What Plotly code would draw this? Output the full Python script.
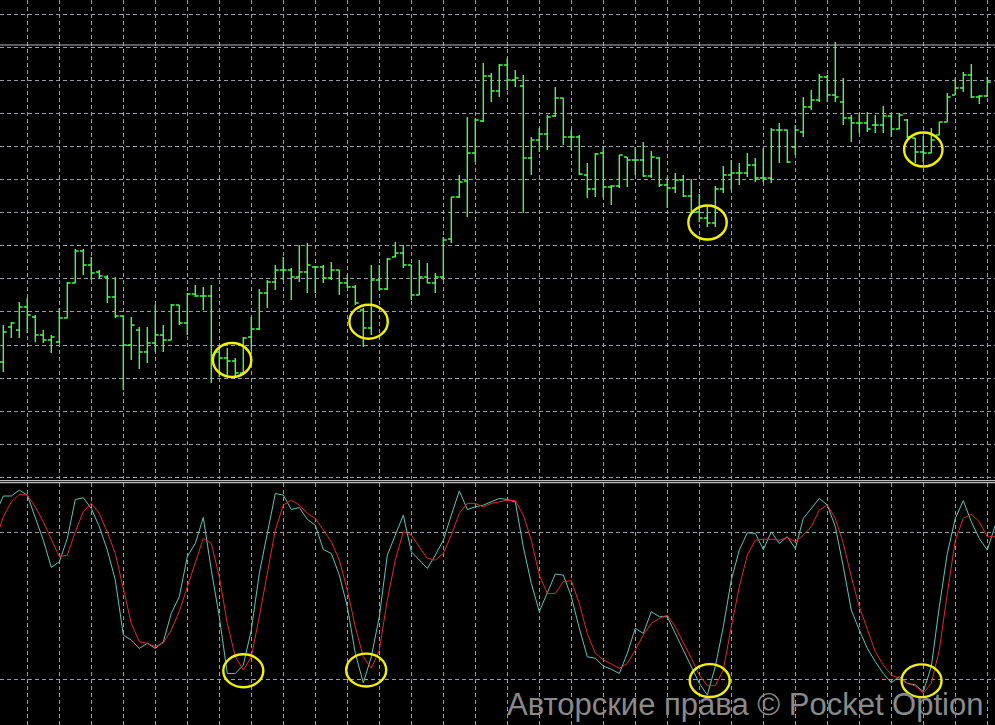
import plotly.graph_objects as go

# ---------------- data (price in points, stochastic in %) ----------------
bars = list(range(124))
open_ = [118,153,150,173,163,145,140,138,162,197,229,215,208,203,183,164,135,150,128,137,
         145,140,175,157,186,184,184,128,122,119,107,143,151,187,198,210,210,203,208,213,
         213,202,210,197,193,170,152,200,191,223,227,215,185,203,197,203,241,283,299,327,
         359,404,389,415,400,394,322,340,346,364,382,343,343,305,291,327,293,294,323,320,
         320,304,322,295,292,300,284,268,262,257,291,305,307,307,315,302,302,350,350,333,
         348,373,380,403,385,378,362,357,357,355,355,364,351,360,342,328,327,345,358,385,
         392,405,383,384]
high = [155,158,178,182,165,150,145,172,198,231,231,223,210,205,203,164,163,153,153,175,
        155,176,175,187,195,193,195,132,132,122,143,163,191,200,215,223,212,235,237,214,
        215,218,210,205,195,172,215,215,222,238,235,215,220,217,207,243,283,305,363,362,
        417,407,416,422,410,405,343,352,365,393,382,350,345,317,327,333,295,325,323,333,
        338,329,323,303,307,305,301,286,275,294,314,320,317,327,322,332,352,357,350,355,
        383,390,406,405,438,402,365,367,368,365,374,367,367,361,342,344,352,358,387,402,
        408,416,385,403]
low = [108,142,142,147,138,137,127,137,162,197,205,200,202,177,162,90,120,111,117,128,
       128,140,155,145,183,170,97,103,103,103,107,130,150,172,190,200,180,198,187,187,
       197,200,185,192,175,133,145,190,190,223,212,180,185,197,187,200,237,282,263,318,
       358,378,383,390,393,267,305,328,330,363,335,330,305,282,283,282,275,292,293,305,
       303,302,293,272,287,283,267,258,253,253,287,290,295,303,298,298,297,317,317,325,
       343,370,378,378,378,355,338,347,348,347,347,343,351,342,317,318,327,345,358,385,
       388,382,376,383]
close = [148,157,173,165,145,140,143,162,197,229,215,207,204,183,164,135,155,128,137,145,
         140,175,157,186,184,184,125,122,119,107,142,151,187,198,210,210,203,208,215,213,
         202,210,197,193,177,152,200,191,221,227,215,185,203,197,203,240,283,298,327,360,
         404,389,415,400,402,322,340,346,363,382,343,343,306,291,326,293,294,325,320,320,
         304,323,295,292,300,284,268,262,257,291,305,307,307,315,302,302,350,350,318,350,
         373,380,403,385,383,362,357,357,351,355,364,351,365,343,328,327,340,358,383,392,
         405,383,384,398]

stoch_x = list(range(-1, 125))
k_line = [87.3,94.7,94.7,97.1,95.1,86.2,76.7,65.6,67.9,77.4,93.3,94.0,89.6,82.2,72.7,60.5,
          38.1,36.0,32.6,34.7,32.6,35.3,46.9,53.7,70.0,75.4,86.0,64.5,45.5,22.4,22.4,25.8,
          40.1,63.2,79.5,95.7,95.1,89.2,90.0,85.2,82.8,72.9,71.3,62.5,49.6,30.6,18.6,29.2,
          45.5,70.6,78.8,86.9,72.0,68.6,65.2,70.6,76.7,86.9,96.8,89.2,90.3,91.0,92.3,93.7,
          93.3,92.3,74.0,59.1,47.6,55.0,62.9,62.5,53.7,40.8,29.2,28.6,25.4,24.1,22.4,30.6,
          40.8,38.7,47.6,45.5,45.5,38.7,31.9,25.2,18.4,13.6,25.2,41.4,60.5,72.7,79.7,79.5,
          72.9,80.1,75.4,78.1,73.3,85.6,89.6,93.7,91.0,82.2,65.9,48.2,40.1,32.6,27.2,22.4,
          18.6,21.1,18.4,17.7,15.0,25.2,49.6,71.3,85.6,92.8,84.2,77.4,72.7,82.8]
d_line = [76.3,86.2,92.3,95.3,95.1,90.3,84.2,77.4,70.0,70.6,80.1,88.3,91.7,87.6,80.0,71.3,
          56.4,42.8,35.3,34.7,33.3,34.9,40.1,47.6,57.7,67.2,77.4,75.4,61.8,42.8,29.2,23.8,
          29.2,45.5,63.2,80.8,91.0,93.0,91.0,87.6,85.6,80.8,76.1,68.6,56.4,41.4,29.2,24.5,
          31.9,52.3,68.6,80.1,78.8,74.0,69.3,68.6,71.3,78.8,87.6,91.7,91.7,90.3,91.7,92.3,
          93.0,92.8,86.9,76.7,62.5,55.0,55.0,59.8,60.2,50.9,38.7,30.6,27.9,26.2,24.5,26.5,
          31.9,38.1,42.8,44.8,46.2,41.4,35.3,28.6,21.8,17.4,17.4,23.8,41.4,57.7,70.6,76.7,
          77.1,77.1,76.7,77.8,76.1,78.8,82.2,89.0,91.0,85.6,75.4,61.8,49.6,40.1,31.3,25.8,
          21.8,20.4,18.4,17.3,14.3,18.4,31.9,55.0,76.7,85.6,87.3,84.2,78.1,78.1]

stoch_levels = [20, 80]
price_line_level = 435

# highlighted spots: (bar center, value center) in price panel and in stochastic panel
price_marks = [(28.6, 120), (45.66, 158.3), (88.03, 257.5), (115.0, 330.5)]
stoch_marks = [(30.0, 23.5), (45.36, 23.8), (88.3, 19.5), (114.78, 19.4)]

watermark = "Авторские права © Pocket Option"

# ---------------- styling ----------------
GREEN = "#4cf84c"
CYAN = "#5cc6ba"
RED = "#e82626"
GRID = "#9c9ca8"
YELLOW = "#f2f200"
DASH = "4px,3px"

fig = go.Figure()
fig.add_trace(go.Ohlc(
    x=bars, open=open_, high=high, low=low, close=close,
    increasing=dict(line=dict(color=GREEN, width=1.4)),
    decreasing=dict(line=dict(color=GREEN, width=1.4)),
    tickwidth=0.42, hoverinfo="skip", showlegend=False,
    xaxis="x", yaxis="y"))
fig.add_trace(go.Scatter(x=stoch_x, y=k_line, mode="lines",
                         line=dict(color=CYAN, width=1), hoverinfo="skip",
                         showlegend=False, xaxis="x2", yaxis="y2"))
fig.add_trace(go.Scatter(x=stoch_x, y=d_line, mode="lines",
                         line=dict(color=RED, width=1), hoverinfo="skip",
                         showlegend=False, xaxis="x2", yaxis="y2"))

xgrid = dict(showgrid=True, gridcolor=GRID, griddash=DASH, gridwidth=1,
             tick0=3.05, dtick=4, showticklabels=False, zeroline=False,
             showline=False, ticks="")

shapes = []
# separator between panels
for yy in (0.33697, 0.33421):
    shapes.append(dict(type="line", xref="paper", yref="paper", x0=0, x1=1, y0=yy, y1=yy,
                       line=dict(color="#e8e8e8", width=1)))
# horizontal price line
shapes.append(dict(type="line", xref="paper", yref="y", x0=0, x1=1,
                   y0=price_line_level, y1=price_line_level,
                   line=dict(color="#b4b4c4", width=1)))
for cx, cy in price_marks:
    shapes.append(dict(type="circle", xref="x", yref="y",
                       x0=cx - 2.4, x1=cx + 2.4, y0=cy - 17, y1=cy + 17,
                       line=dict(color=YELLOW, width=2.4)))
for cx, cy in stoch_marks:
    shapes.append(dict(type="circle", xref="x2", yref="y2",
                       x0=cx - 2.5, x1=cx + 2.5, y0=cy - 6.7, y1=cy + 6.7,
                       line=dict(color=YELLOW, width=2.4)))

fig.update_layout(
    width=995, height=725,
    margin=dict(l=0, r=0, t=0, b=0),
    paper_bgcolor="black", plot_bgcolor="black",
    showlegend=False,
    xaxis=dict(domain=[0, 1], range=[-0.4125, 123.9625], anchor="y",
               rangeslider=dict(visible=False), **xgrid),
    xaxis2=dict(domain=[0, 1], matches="x", anchor="y2", **xgrid),
    yaxis=dict(domain=[0.33931, 1], range=[1, 480], showgrid=True, gridcolor=GRID,
               griddash=DASH, gridwidth=1, tick0=465.7, dtick=33.07,
               showticklabels=False, zeroline=False, showline=False, ticks=""),
    yaxis2=dict(domain=[0, 0.33379], range=[1.4, 100], showgrid=True, gridcolor=GRID,
                griddash=DASH, gridwidth=1, tickmode="array", tickvals=stoch_levels,
                showticklabels=False, zeroline=False, showline=False, ticks=""),
    shapes=shapes,
    annotations=[dict(text=watermark, xref="paper", yref="paper",
                      x=0.99, y=0.028, xanchor="right", yanchor="middle",
                      showarrow=False,
                      font=dict(family="Liberation Sans, Arial, sans-serif", size=31,
                                color="#8a8a8a"))],
)

fig.write_html("out.html", config={"displayModeBar": False},
               post_script="document.body.style.margin='0';document.body.style.padding='0';"
                           "document.body.style.background='black';")
